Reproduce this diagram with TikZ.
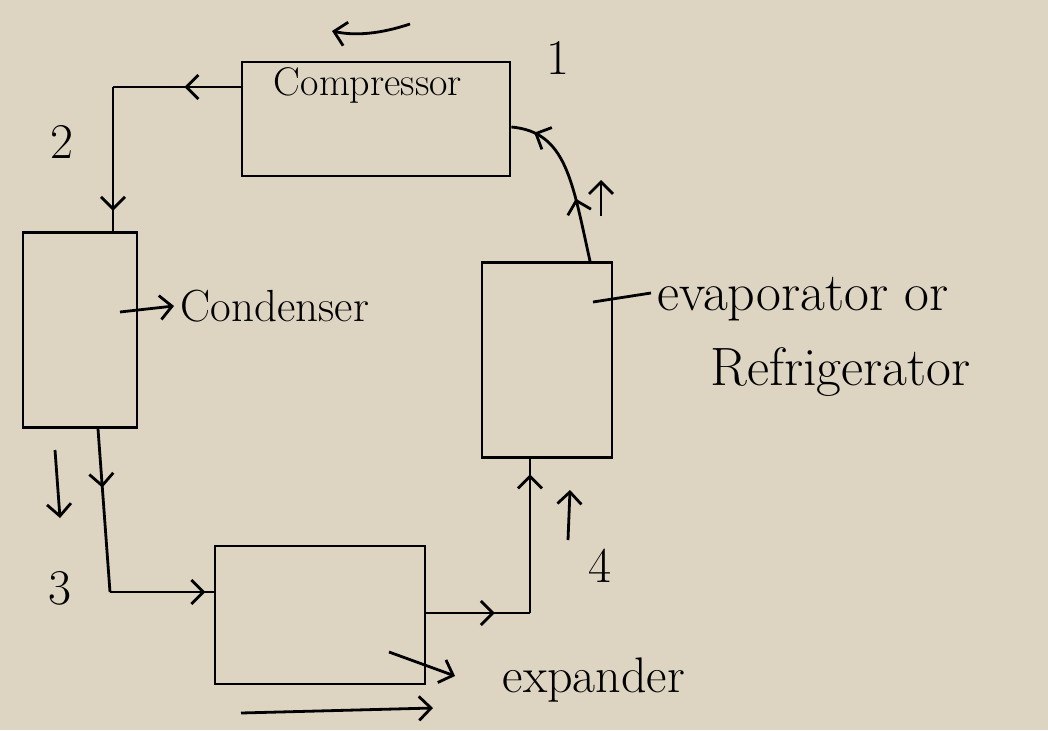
\documentclass[tikz,border=0pt]{standalone}
\usepackage{fontspec}
\usetikzlibrary{arrows.meta,positioning,decorations.markings}
\definecolor{paper}{RGB}{221,213,194}

\begin{document}
\begin{tikzpicture}[x=1pt,y=-1pt,line width=2.8pt,
                    every node/.style={font=\fontsize{40}{48}\selectfont},
                    box/.style={draw,rectangle,inner sep=0pt},
                    big/.style={font=\fontsize{54}{62}\selectfont},
                    num/.style={font=\fontsize{50}{58}\selectfont},
                    >={Straight Barb[length=12pt,width=24pt]},
                    mid/.style={postaction={decorate,decoration={markings,
                        mark=at position #1 with {\arrow{>}}}}}]

\path[use as bounding box,fill=paper] (0,0) rectangle (1048,730);

% the four units
\node[box,minimum width=268pt,minimum height=114pt] (comp) at (376,119) {};
\node[below=2pt of comp.north,xshift=-8pt] (comptxt) {Compressor};
\node[box,minimum width=114pt,minimum height=195pt] (cond) at (80,330) {};
\node[box,minimum width=130pt,minimum height=195pt] (evap) at (547,360) {};
\node[box,minimum width=210pt,minimum height=138pt] (expd) at (320,615) {};

% bends of the pipe
\coordinate (k2) at (113,87);
\coordinate (k3) at (110,592);
\coordinate (k4) at (530,613);

\draw[mid=.44] ([yshift=32pt]comp.west) -- (k2);
\draw[mid=.86] (k2) -- ([xshift=33pt]cond.north);
\draw[mid=.36] ([xshift=18pt]cond.south) -- (k3);
\draw[mid=.92] (k3) -- ([yshift=23pt]expd.west);
\draw[mid=.66] ([yshift=2pt]expd.east) -- (k4);
\draw[mid=.9] (k4) -- ([xshift=-17pt]evap.south);
\draw[mid=.38,mid=.86] ([xshift=43pt]evap.north) .. controls (572,180) and (566,132) .. ([yshift=-8pt]comp.east);

% state points
\node[num] (p1) at (558,58) {1};
\node[num] (p2) at (62,142) {2};
\node[num] (p3) at (60,588) {3};
\node[num] (p4) at (600,566) {4};

% flow marks beside the pipe
\coordinate (t1) at (410,24);
\coordinate (t2) at (332,31);
\draw[->] (t1) .. controls (380,34) and (355,36) .. (t2);
\coordinate (u1) at (601,216);
\coordinate (u2) at (601,180);
\draw[->] (u1) -- (u2);
\coordinate (d1) at (55,450);
\coordinate (d2) at (60,518);
\draw[->] (d1) -- (d2);
\coordinate (e1) at (568,540);
\coordinate (e2) at (570,490);
\draw[->] (e1) -- (e2);

% labels
\coordinate (c1) at (120,312);
\coordinate (c2) at (174,306);
\draw[->] (c1) -- (c2);
\node[font=\fontsize{45}{52}\selectfont,right=2pt of c2] (condlbl) {Condenser};

\coordinate (v1) at (593,302);
\coordinate (v2) at (651,293);
\draw (v1) -- (v2);
\node[big,right=2pt of v2,yshift=-6pt] (evlbl) {evaporator or};
\node[big,anchor=west] (reflbl) at (706,372) {Refrigerator};

\coordinate (x1) at (389,652);
\coordinate (x2) at (455,676);
\draw[->] (x1) -- (x2);
\node[font=\fontsize{50}{58}\selectfont,anchor=west] (exlbl) at (498,680) {expander};
\coordinate (b1) at (241,713);
\coordinate (b2) at (433,708);
\draw[->] (b1) -- (b2);

\end{tikzpicture}
\end{document}
